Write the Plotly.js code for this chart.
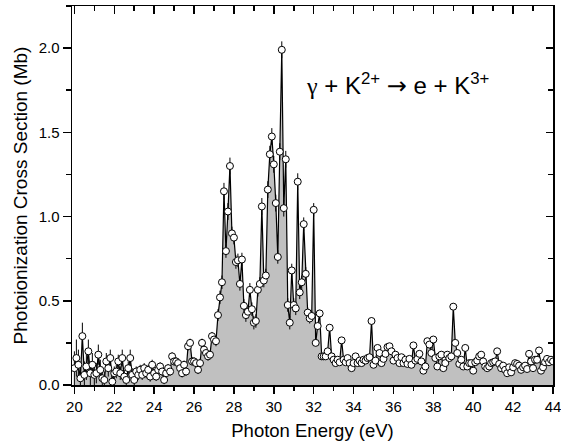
<!DOCTYPE html>
<html>
<head>
<meta charset="utf-8">
<script src="https://cdn.plot.ly/plotly-3.0.1.min.js"></script>
<style>
html,body{margin:0;padding:0;background:#fff;}
#chart{width:561px;height:444px;}
</style>
</head>
<body>
<div id="chart"></div>
<script>
// Photon energy (eV)
var energy = [
20.0,20.1,20.2,20.3,20.4,20.5,20.6,20.7,20.8,20.9,
21.0,21.1,21.2,21.3,21.4,21.5,21.6,21.7,21.8,21.9,
22.0,22.1,22.2,22.3,22.4,22.5,22.6,22.7,22.8,22.9,
23.0,23.1,23.2,23.3,23.4,23.5,23.6,23.7,23.8,23.9,
24.0,24.1,24.2,24.3,24.4,24.5,24.6,24.7,24.8,24.9,
25.0,25.1,25.2,25.3,25.4,25.5,25.6,25.7,25.8,25.9,
26.0,26.1,26.2,26.3,26.4,26.5,26.6,26.7,26.8,26.9,
27.0,27.1,27.2,27.3,27.4,27.5,27.6,27.7,27.8,27.9,
28.0,28.1,28.2,28.3,28.4,28.5,28.6,28.7,28.8,28.9,
29.0,29.1,29.2,29.3,29.4,29.5,29.6,29.7,29.8,29.9,
30.0,30.1,30.2,30.3,30.4,30.5,30.6,30.7,30.8,30.9,
31.0,31.1,31.2,31.3,31.4,31.5,31.6,31.7,31.8,31.9,
32.0,32.1,32.2,32.3,32.4,32.5,32.6,32.7,32.8,32.9,
33.0,33.1,33.2,33.3,33.4,33.5,33.6,33.7,33.8,33.9,
34.0,34.1,34.2,34.3,34.4,34.5,34.6,34.7,34.8,34.9,
35.0,35.1,35.2,35.3,35.4,35.5,35.6,35.7,35.8,35.9,
36.0,36.1,36.2,36.3,36.4,36.5,36.6,36.7,36.8,36.9,
37.0,37.1,37.2,37.3,37.4,37.5,37.6,37.7,37.8,37.9,
38.0,38.1,38.2,38.3,38.4,38.5,38.6,38.7,38.8,38.9,
39.0,39.1,39.2,39.3,39.4,39.5,39.6,39.7,39.8,39.9,
40.0,40.1,40.2,40.3,40.4,40.5,40.6,40.7,40.8,40.9,
41.0,41.1,41.2,41.3,41.4,41.5,41.6,41.7,41.8,41.9,
42.0,42.1,42.2,42.3,42.4,42.5,42.6,42.7,42.8,42.9,
43.0,43.1,43.2,43.3,43.4,43.5,43.6,43.7,43.8,43.9,
44.0
];

// Photoionization cross section (Mb)
var crossSection = [
0.10,0.16,0.12,0.04,0.29,0.06,0.11,0.20,0.07,0.12,
0.06,0.07,0.18,0.09,0.04,0.03,0.14,0.10,0.16,0.02,
0.07,0.08,0.14,0.07,0.16,0.05,0.03,0.10,0.16,0.06,
0.03,0.08,0.06,0.09,0.06,0.10,0.07,0.09,0.05,0.12,
0.07,0.05,0.09,0.11,0.08,0.03,0.07,0.10,0.08,0.17,
0.14,0.14,0.13,0.10,0.07,0.12,0.08,0.23,0.25,0.14,
0.14,0.13,0.09,0.13,0.25,0.21,0.19,0.17,0.18,0.29,
0.27,0.26,0.415,0.52,0.61,1.15,0.795,1.03,1.30,0.90,
0.875,0.73,0.74,0.60,0.745,0.47,0.415,0.435,0.565,0.45,
0.37,0.38,0.565,0.60,1.06,0.62,0.65,1.16,1.37,1.475,
1.31,1.08,0.76,1.385,1.99,1.05,1.34,0.475,0.37,0.68,
0.475,0.455,1.207,0.55,0.61,0.955,0.66,0.43,0.395,0.41,
1.04,0.25,0.35,0.425,0.17,0.17,0.17,0.20,0.34,0.17,
0.15,0.13,0.15,0.135,0.265,0.15,0.135,0.16,0.13,0.10,
0.13,0.17,0.13,0.145,0.13,0.15,0.145,0.16,0.165,0.38,
0.12,0.145,0.22,0.19,0.13,0.155,0.185,0.225,0.23,0.20,
0.145,0.18,0.16,0.13,0.165,0.13,0.15,0.125,0.155,0.12,
0.235,0.145,0.155,0.185,0.14,0.085,0.11,0.26,0.24,0.19,
0.27,0.16,0.11,0.17,0.18,0.10,0.13,0.18,0.16,0.17,
0.465,0.25,0.19,0.125,0.15,0.11,0.22,0.11,0.13,0.13,
0.085,0.135,0.145,0.17,0.18,0.14,0.11,0.10,0.11,0.13,
0.135,0.14,0.20,0.125,0.10,0.115,0.09,0.07,0.105,0.075,
0.105,0.13,0.125,0.115,0.09,0.105,0.115,0.095,0.185,0.14,
0.10,0.15,0.15,0.205,0.085,0.105,0.135,0.155,0.135,0.15,
0.14
];

// Uncertainty (Mb)
var uncertainty = [
0.10,0.11,0.09,0.09,0.08,0.08,0.08,0.07,0.07,0.07,
0.06,0.06,0.06,0.06,0.05,0.05,0.05,0.05,0.05,0.05,
0.04,0.04,0.04,0.04,0.05,0.04,0.04,0.04,0.05,0.04,
0.03,0.03,0.03,0.03,0.03,0.03,0.03,0.03,0.03,0.03,
0.025,0.025,0.025,0.025,0.025,0.025,0.025,0.025,0.025,0.025,
0.025,0.025,0.025,0.025,0.025,0.025,0.025,0.025,0.025,0.025,
0.025,0.025,0.025,0.025,0.025,0.025,0.025,0.025,0.025,0.025,
0.03,0.03,0.035,0.04,0.04,0.05,0.04,0.05,0.05,0.04,
0.04,0.04,0.04,0.04,0.04,0.04,0.04,0.04,0.04,0.04,
0.04,0.04,0.04,0.04,0.05,0.04,0.04,0.05,0.05,0.05,
0.05,0.05,0.04,0.05,0.05,0.05,0.05,0.04,0.04,0.04,
0.04,0.04,0.05,0.04,0.04,0.04,0.04,0.03,0.03,0.03,
0.04,0.02,0.02,0.02,0.015,0.015,0.015,0.015,0.02,0.015,
0.015,0.015,0.015,0.015,0.015,0.015,0.015,0.015,0.015,0.015,
0.015,0.015,0.015,0.015,0.015,0.015,0.015,0.015,0.015,0.02,
0.015,0.015,0.015,0.015,0.015,0.015,0.015,0.015,0.015,0.015,
0.015,0.015,0.015,0.015,0.015,0.015,0.015,0.015,0.015,0.015,
0.015,0.015,0.015,0.015,0.015,0.015,0.015,0.015,0.015,0.015,
0.015,0.015,0.015,0.015,0.015,0.015,0.015,0.015,0.015,0.015,
0.02,0.015,0.015,0.015,0.015,0.015,0.015,0.015,0.015,0.015,
0.015,0.015,0.015,0.015,0.015,0.015,0.015,0.015,0.015,0.015,
0.015,0.015,0.015,0.015,0.015,0.015,0.015,0.015,0.015,0.015,
0.015,0.015,0.015,0.015,0.015,0.015,0.015,0.015,0.015,0.015,
0.015,0.015,0.015,0.015,0.015,0.015,0.015,0.015,0.015,0.015,
0.015
];

var xTickVals = [20,22,24,26,28,30,32,34,36,38,40,42,44];
var xTickText = ['20','22','24','26','28','30','32','34','36','38','40','42','44'];
var yTickVals = [0.0,0.5,1.0,1.5,2.0];
var yTickText = ['0.0','0.5','1.0','1.5','2.0'];

var xRange = [19.88, 44];
var yRange = [0, 2.25];

var FONT = 'Liberation Sans, Arial, Helvetica, sans-serif';

var traces = [
  {
    x: energy, y: crossSection,
    type: 'scatter', mode: 'lines+markers',
    fill: 'tozeroy', fillcolor: '#c0c0c0',
    line: {color: '#000', width: 1.2},
    marker: {symbol: 'circle', size: 7, color: '#fff', line: {color: '#000', width: 1}},
    error_y: {type: 'data', array: uncertainty, visible: true, color: '#000', thickness: 1, width: 0},
    hoverinfo: 'x+y', showlegend: false
  },
  {
    x: [xRange[0]], y: [yRange[0]],
    xaxis: 'x2', yaxis: 'y2',
    type: 'scatter', mode: 'markers',
    marker: {opacity: 0}, hoverinfo: 'skip', showlegend: false
  }
];

var layout = {
  width: 561, height: 444,
  margin: {l: 72, r: 8, t: 6, b: 59, pad: 0},
  paper_bgcolor: '#fff', plot_bgcolor: '#fff',
  font: {family: FONT, color: '#000', size: 15},
  showlegend: false,
  xaxis: {
    range: xRange, tickmode: 'array', tickvals: xTickVals, ticktext: xTickText,
    ticks: 'outside', ticklen: 7, tickwidth: 1.5, tickcolor: '#000',
    ticklabeloverflow: 'allow',
    minor: {dtick: 1, tick0: 20, ticks: 'outside', ticklen: 4, tickwidth: 1.5, tickcolor: '#000', showgrid: false},
    showline: true, linewidth: 1.5, linecolor: '#000', mirror: true,
    showgrid: false, zeroline: false,
    tickfont: {family: FONT, size: 15, color: '#000'},
    title: {text: 'Photon Energy (eV)', font: {family: FONT, size: 18.5, color: '#000'}, standoff: 10}
  },
  yaxis: {
    range: yRange, tickmode: 'array', tickvals: yTickVals, ticktext: yTickText,
    ticks: 'outside', ticklen: 8, tickwidth: 1.5, tickcolor: '#000',
    ticklabeloverflow: 'allow',
    minor: {dtick: 0.25, tick0: 0, ticks: 'outside', ticklen: 5, tickwidth: 1.5, tickcolor: '#000', showgrid: false},
    showline: true, linewidth: 1.5, linecolor: '#000', mirror: true,
    showgrid: false, zeroline: false,
    tickfont: {family: FONT, size: 15, color: '#000'},
    title: {text: 'Photoionization Cross Section (Mb)', font: {family: FONT, size: 19, color: '#000'}, standoff: 6}
  },
  xaxis2: {
    overlaying: 'x', side: 'top', anchor: 'y', range: xRange,
    tickmode: 'array', tickvals: xTickVals, showticklabels: false,
    ticks: 'inside', ticklen: 8, tickwidth: 1.5, tickcolor: '#000',
    minor: {dtick: 1, tick0: 20, ticks: 'inside', ticklen: 5, tickwidth: 1.5, tickcolor: '#000', showgrid: false},
    showline: false, showgrid: false, zeroline: false
  },
  yaxis2: {
    overlaying: 'y', side: 'right', anchor: 'x', range: yRange,
    tickmode: 'array', tickvals: yTickVals, showticklabels: false,
    ticks: 'inside', ticklen: 7, tickwidth: 1.5, tickcolor: '#000',
    minor: {dtick: 0.25, tick0: 0, ticks: 'inside', ticklen: 5, tickwidth: 1.5, tickcolor: '#000', showgrid: false},
    showline: false, showgrid: false, zeroline: false
  },
  annotations: [{
    xref: 'paper', yref: 'paper', x: 0.482, y: 0.794,
    xanchor: 'left', yanchor: 'middle', showarrow: false,
    text: '<span style="font-family:Liberation Serif, DejaVu Serif, serif">\u03b3</span> + K<sup>2+</sup> <span style="font-family:DejaVu Sans">\u2192</span> e + K<sup>3+</sup>',
    font: {family: FONT, size: 24, color: '#000'}
  }]
};

Plotly.newPlot('chart', traces, layout, {displayModeBar: false, staticPlot: true});
</script>
</body>
</html>
